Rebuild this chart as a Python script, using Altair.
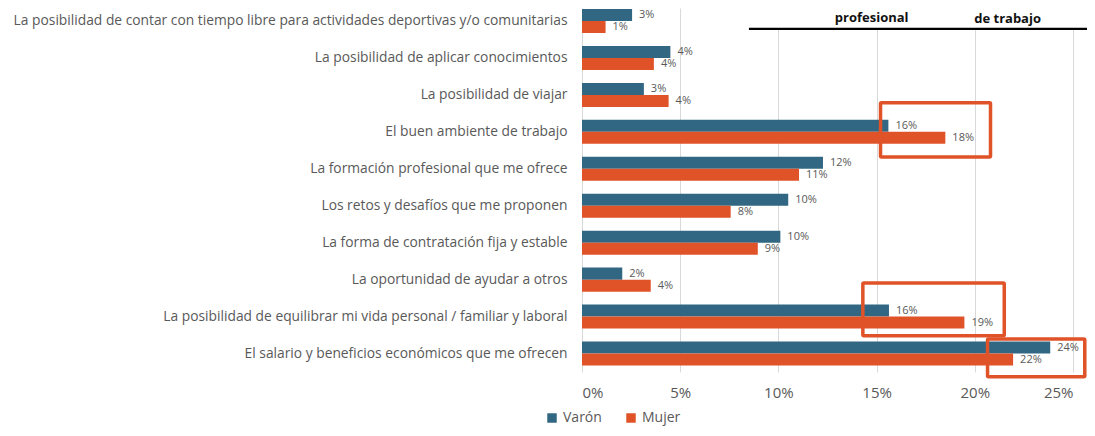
import json
import altair as alt
import pandas as pd

# ---------------- data ----------------
categories = [
    "La posibilidad de contar con tiempo libre para actividades deportivas y/o comunitarias",
    "La posibilidad de aplicar conocimientos",
    "La posibilidad de viajar",
    "El buen ambiente de trabajo",
    "La formación profesional que me ofrece",
    "Los retos y desafíos que me proponen",
    "La forma de contratación fija y estable",
    "La oportunidad de ayudar a otros",
    "La posibilidad de equilibrar mi vida personal / familiar y laboral",
    "El salario y beneficios económicos que me ofrecen",
]
series = ["Varón", "Mujer"]
varon = [2.55, 4.5, 3.15, 15.6, 12.27, 10.5, 10.1, 2.05, 15.63, 23.84]
mujer = [1.2, 3.66, 4.41, 18.5, 11.05, 7.57, 8.95, 3.5, 19.47, 21.95]
varon_labels = [3, 4, 3, 16, 12, 10, 10, 2, 16, 24]
mujer_labels = [1, 4, 4, 18, 11, 8, 9, 4, 19, 22]
x_ticks = [0, 5, 10, 15, 20, 25]

# highlight boxes (category index, x range in %, vertical extent in category units)
box_category = [3, 8, 9]
box_x_from = [15.2, 14.3, 20.65]
box_x_to = [20.8, 21.5, 25.6]
box_y_from = [-0.79, -0.906, -0.39]
box_y_to = [0.68, 0.52, 0.63]

# header fragment (cropped table heading above the chart)
header_texts = ["profesional", "de trabajo"]
header_x = [14.75, 21.67]
header_y = [-0.09, -0.05]
header_x_from = [8.5]
header_x_to = [26.2]
header_line_y = [0.216]

# ---------------- style ----------------
colors = ["#326783", "#E05328"]
text_color = "#595959"
font = "Open Sans"
bar_h = 0.325
y_top = -0.3515
y_bottom = 9.5

# ---------------- tables ----------------
rows = []
for i, cat in enumerate(categories):
    rows.append(dict(idx=i, series="Varón", x0=0, value=varon[i], y0=i - bar_h, y1=i,
                     ymid=i - bar_h / 2, label=f"{varon_labels[i]}%"))
    rows.append(dict(idx=i, series="Mujer", x0=0, value=mujer[i], y0=i, y1=i + bar_h,
                     ymid=i + bar_h / 2, label=f"{mujer_labels[i]}%"))
df = pd.DataFrame(rows)

boxes = pd.DataFrame({
    "x0": box_x_from,
    "x1": box_x_to,
    "y0": [c + a for c, a in zip(box_category, box_y_from)],
    "y1": [c + b for c, b in zip(box_category, box_y_to)],
})
header_panel = pd.DataFrame({"x0": header_x_from, "x1": header_x_to,
                             "y0": [y_top], "y1": header_line_y})
header_txt = pd.DataFrame({"x": header_x, "y": header_y, "t": header_texts})

xscale = alt.Scale(domain=[0, 25], nice=False, zero=False)
yscale = alt.Scale(domain=[y_top, y_bottom], reverse=True, nice=False, zero=False)

label_expr = json.dumps(categories, ensure_ascii=False) + "[datum.value]"

panel = alt.Chart(header_panel).mark_rect(color="white").encode(
    x=alt.X("x0:Q", scale=xscale, title=None),
    x2="x1:Q",
    y=alt.Y("y0:Q", scale=yscale, title=None),
    y2="y1:Q",
)

bars = alt.Chart(df).mark_rect().encode(
    x=alt.X("x0:Q", scale=xscale, title=None,
            axis=alt.Axis(values=x_ticks, labelExpr="datum.value + '%'", grid=True,
                          gridColor="#D9D9D9", gridWidth=1, domain=False, ticks=False,
                          tickSize=0, labelPadding=13, labelFontSize=15,
                          labelColor=text_color, title=None)),
    x2="value:Q",
    y=alt.Y("y0:Q", scale=yscale, title=None,
            axis=alt.Axis(values=list(range(len(categories))), labelExpr=label_expr,
                          grid=False, domain=False, ticks=False, tickSize=0,
                          labelPadding=15, labelFontSize=13.8, labelColor=text_color,
                          labelLimit=0, title=None)),
    y2="y1:Q",
    color=alt.Color("series:N", scale=alt.Scale(domain=series, range=colors),
                    legend=alt.Legend(orient="none", legendX=-37, legendY=403,
                                      direction="horizontal", title=None,
                                      symbolType="square", symbolSize=90,
                                      symbolStrokeWidth=0, labelFontSize=14,
                                      labelColor=text_color, labelOffset=4,
                                      columnPadding=22)),
)

labels = alt.Chart(df).mark_text(align="left", baseline="middle", dx=7,
                                 fontSize=11, color=text_color).encode(
    x=alt.X("value:Q", scale=xscale, title=None),
    y=alt.Y("ymid:Q", scale=yscale, title=None),
    text="label:N",
)

box_layer = alt.Chart(boxes).mark_rect(fillOpacity=0, stroke="#E05328",
                                       strokeWidth=3.5, cornerRadius=1).encode(
    x=alt.X("x0:Q", scale=xscale, title=None),
    x2="x1:Q",
    y=alt.Y("y0:Q", scale=yscale, title=None),
    y2="y1:Q",
)

header_rule = alt.Chart(header_panel).mark_rule(color="black", strokeWidth=2.2).encode(
    x=alt.X("x0:Q", scale=xscale, title=None),
    x2="x1:Q",
    y=alt.Y("y1:Q", scale=yscale, title=None),
)

header_text = alt.Chart(header_txt).mark_text(fontWeight="bold", fontSize=13,
                                              color="#111111", baseline="middle").encode(
    x=alt.X("x:Q", scale=xscale, title=None),
    y=alt.Y("y:Q", scale=yscale, title=None),
    text="t:N",
)

chart = alt.layer(panel, bars, labels, box_layer, header_rule, header_text).properties(
    width=491,
    height=364,
    padding={"left": 574, "top": 0, "right": 14, "bottom": 56},
    autosize=alt.AutoSizeParams(type="none"),
).configure(font=font).configure_view(stroke=None)

chart.save("out.html", embed_options={"renderer": "svg", "actions": False})
